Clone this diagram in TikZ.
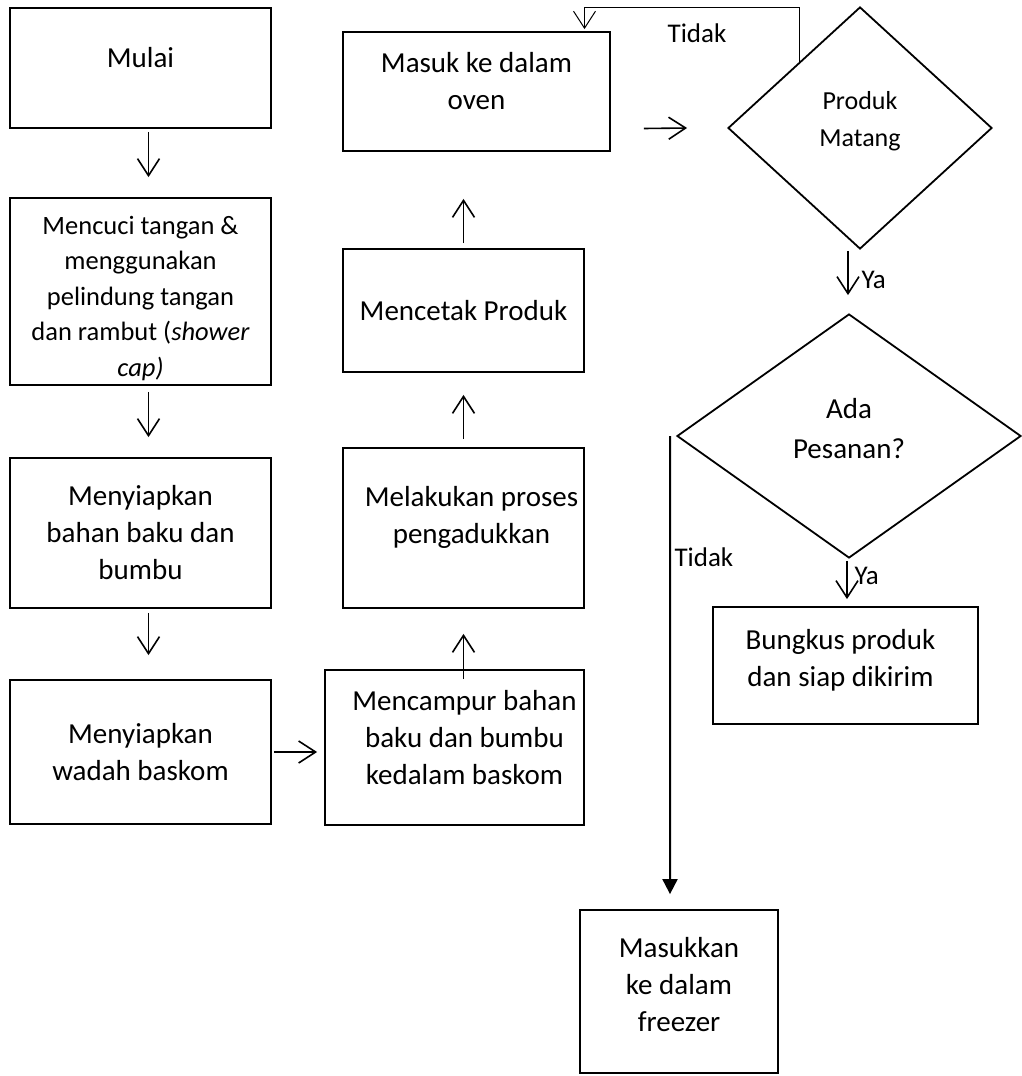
\documentclass[tikz,border=0pt]{standalone}
\usepackage{fontspec}
\setmainfont{Carlito}
\usetikzlibrary{shapes.geometric,arrows.meta}

\begin{document}
\begin{tikzpicture}[x=1pt,y=-1pt,
    box/.style={draw,line width=1.8pt,inner sep=0pt},
    cek/.style={draw,diamond,line width=1.8pt,inner sep=0pt},
    txt/.style={align=center,font=\fontsize{29}{37}\selectfont},
    arr/.style={line width=1.6pt,-{Straight Barb[length=17pt,width=22pt]}},
    balik/.style={line width=1pt,-{Straight Barb[length=17pt,width=22pt]}},
    tarr/.style={line width=2pt,-{Triangle[length=15pt,width=15pt]}},
    lbl/.style={font=\fontsize{27}{32}\selectfont}]
    \useasboundingbox (0,0) rectangle (1021,1076);

    \node[box,minimum width=261pt,minimum height=120pt,
        label={[txt,yshift=10pt]center:Mulai}] (mulai) at (140.5,68) {};
    \node[box,minimum width=261pt,minimum height=187pt,
        label={[txt,font=\fontsize{26.5}{35.5}\selectfont,yshift=-7pt]center:{Mencuci tangan \&\\menggunakan\\pelindung tangan\\dan rambut (\textit{shower}\\\textit{cap)}}}] (cuci) at (140.5,291.5) {};
    \node[box,minimum width=261pt,minimum height=150pt,
        label={[txt]center:{Menyiapkan\\bahan baku dan\\bumbu}}] (bahan) at (140.5,533) {};
    \node[box,minimum width=261pt,minimum height=144pt,
        label={[txt]center:{Menyiapkan\\wadah baskom}}] (wadah) at (140.5,752) {};
    \node[box,minimum width=259pt,minimum height=155pt,
        label={[txt,xshift=10pt,yshift=10pt]center:{Mencampur bahan\\baku dan bumbu\\kedalam baskom}}] (campur) at (454.5,747.5) {};
    \node[box,minimum width=241pt,minimum height=160pt,
        label={[txt,xshift=8pt,yshift=11pt]center:{Melakukan proses\\pengadukkan}}] (aduk) at (463.5,528) {};
    \node[box,minimum width=241pt,minimum height=123pt,
        label={[txt]center:Mencetak Produk}] (cetak) at (463.5,310.5) {};
    \node[box,minimum width=267pt,minimum height=119pt,
        label={[txt,yshift=10pt]center:{Masuk ke dalam\\oven}}] (oven) at (476.5,91.5) {};
    \node[cek,minimum width=264pt,minimum height=242pt,
        label={[txt,font=\fontsize{26}{37}\selectfont,yshift=7pt]center:{Produk\\Matang}}] (matang) at (860,128) {};
    \node[cek,minimum width=344pt,minimum height=244pt,
        label={[txt,font=\fontsize{29}{40}\selectfont,yshift=7pt]center:{Ada\\Pesanan?}}] (ada) at (849,436) {};
    \node[box,minimum width=265pt,minimum height=117pt,
        label={[txt,xshift=-5pt,yshift=5pt]center:{Bungkus produk\\dan siap dikirim}}] (bungkus) at (845.5,665.5) {};
    \node[box,minimum width=198pt,minimum height=163pt,
        label={[txt,yshift=7pt]center:{Masukkan\\ke dalam\\freezer}}] (freezer) at (679,991.5) {};

    \draw[arr] ([xshift=8pt,yshift=-3pt]mulai.south) -- ([xshift=8pt,yshift=20pt]cuci.north);
    \draw[arr] ([xshift=8pt,yshift=-6pt]cuci.south) -- ([xshift=8pt,yshift=20pt]bahan.north);
    \draw[arr] ([xshift=8pt,yshift=-4pt]bahan.south) -- ([xshift=8pt,yshift=24pt]wadah.north);
    \draw[arr] ([xshift=2pt]wadah.east) -- ([xshift=-7pt]campur.west |- wadah.east);
    \draw[arr] ([xshift=9pt,yshift=-10pt]campur.north) -- ([yshift=-25pt]aduk.south);
    \draw[arr] ([yshift=8pt]aduk.north) -- ([yshift=-22pt]cetak.south);
    \draw[arr] ([yshift=5pt]cetak.north) -- ([xshift=-13pt,yshift=-47pt]oven.south);
    \draw[arr] ([xshift=33pt,yshift=-37pt]oven.east) -- ([xshift=-40pt]matang.west);
    \draw[balik] ([xshift=6pt,yshift=5pt]matang.north west) |- ([xshift=108pt,yshift=24pt]oven.north)
        -- ([xshift=108pt,yshift=2pt]oven.north);
    \node[lbl] (tidak1) at (697,33) {Tidak};
    \draw[arr] ([xshift=-12pt,yshift=-1pt]matang.south) -- ([xshift=-1pt,yshift=18pt]ada.north);
    \node[lbl,anchor=west] (ya1) at (858,280) {Ya};
    \draw[arr] ([xshift=-2pt,yshift=-2pt]ada.south) -- ([xshift=1.5pt,yshift=7pt]bungkus.north);
    \node[lbl,anchor=west] (ya2) at (851,576) {Ya};
    \draw[tarr] ([xshift=-6pt]ada.west) -- ([xshift=-9pt,yshift=15pt]freezer.north);
    \node[lbl,anchor=west] (tidak2) at (671,557) {Tidak};
\end{tikzpicture}
\end{document}
